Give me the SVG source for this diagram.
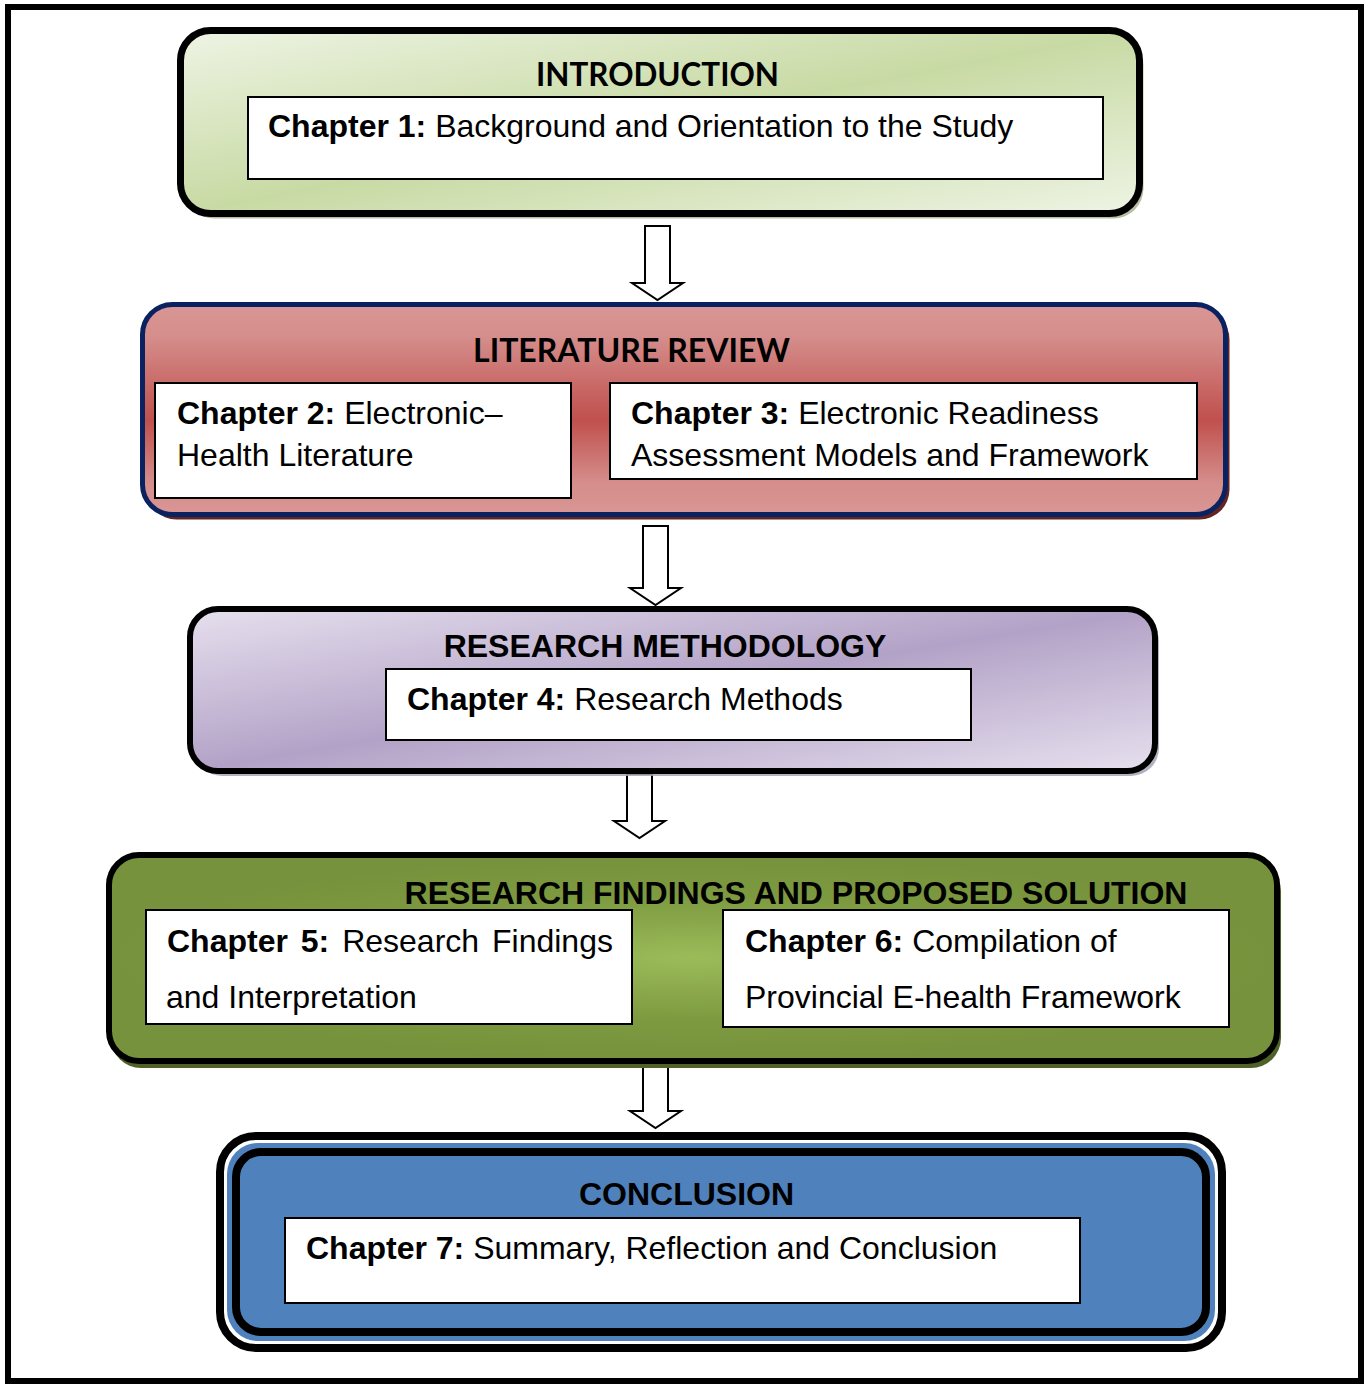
<svg xmlns="http://www.w3.org/2000/svg" width="1364" height="1384" viewBox="0 0 1364 1384">
  <defs>
    <linearGradient id="gIntro" x1="0" y1="0" x2="1" y2="1">
      <stop offset="0" stop-color="#eef4e4"/>
      <stop offset="0.5" stop-color="#c8daa4"/>
      <stop offset="1" stop-color="#eef4e4"/>
    </linearGradient>
    <linearGradient id="gLit" x1="0" y1="0" x2="0" y2="1">
      <stop offset="0" stop-color="#d99694"/>
      <stop offset="0.15" stop-color="#d58e8c"/>
      <stop offset="0.55" stop-color="#c0504d"/>
      <stop offset="0.85" stop-color="#d58e8c"/>
      <stop offset="1" stop-color="#d99694"/>
    </linearGradient>
    <linearGradient id="gMethod" x1="0" y1="0" x2="1" y2="1">
      <stop offset="0" stop-color="#e6e0ee"/>
      <stop offset="0.5" stop-color="#b3a2c7"/>
      <stop offset="1" stop-color="#e6e0ee"/>
    </linearGradient>
    <radialGradient id="gFind" cx="0.5" cy="0.5" r="0.5" fx="0.5" fy="0.5">
      <stop offset="0" stop-color="#9bbb59"/>
      <stop offset="0.6" stop-color="#7d9a40"/>
      <stop offset="1" stop-color="#76923c"/>
    </radialGradient>
    <style>
      .box { fill: #ffffff; stroke: #000000; stroke-width: 2; }
      .t { font-family: "Liberation Sans", Arial, sans-serif; font-size: 32px; fill: #000000; }
      .b { font-weight: bold; }
      .h { font-family: "Liberation Sans", Arial, sans-serif; font-size: 32px; font-weight: bold; fill: #000000; text-anchor: middle; }
      .hc { font-family: Lato, "Open Sans", sans-serif; font-size: 33px; font-weight: bold; fill: #000000; text-anchor: middle; }
      .arrow { fill: #ffffff; stroke: #000000; stroke-width: 2; stroke-linejoin: miter; }
    </style>
  </defs>

  <!-- page frame -->
  <rect x="0" y="0" width="1364" height="1384" fill="#ffffff"/>
  <rect x="8" y="7" width="1353" height="1374" fill="none" stroke="#000000" stroke-width="6"/>

  <!-- connectors -->
  <g id="connectors">
    <path class="arrow" d="M645,226 H670 V283 H683 L657.5,300 L632,283 H645 Z"/>
    <path class="arrow" d="M643,526 H668 V588 H681 L655.5,605 L630,588 H643 Z"/>
    <path class="arrow" d="M627,774 H652 V821 H665 L639.5,838 L614,821 H627 Z"/>
    <path class="arrow" d="M643,1064 H668 V1111 H681 L655.5,1128 L630,1111 H643 Z"/>
  </g>

  <!-- introduction -->
  <g id="introduction">
    <rect x="184.5" y="35.5" width="959" height="183" rx="30" fill="#a9b48f" opacity="0.85"/>
    <rect x="180.5" y="30.5" width="959" height="183" rx="30" fill="url(#gIntro)" stroke="#000000" stroke-width="7"/>
    <text class="hc" x="657.5" y="86" textLength="243" lengthAdjust="spacingAndGlyphs">INTRODUCTION</text>
    <rect class="box" x="248" y="97" width="855" height="82"/>
    <text class="t" x="268" y="137"><tspan class="b">Chapter 1:</tspan> Background and Orientation to the Study</text>
  </g>

  <!-- literature review -->
  <g id="literature-review">
    <rect x="146.5" y="309.5" width="1083" height="210" rx="30" fill="#632523"/>
    <rect x="142.5" y="304.5" width="1083" height="210" rx="30" fill="url(#gLit)" stroke="#0a2260" stroke-width="5"/>
    <text class="hc" x="631.5" y="362" textLength="317" lengthAdjust="spacingAndGlyphs">LITERATURE REVIEW</text>
    <rect class="box" x="155" y="383" width="416" height="115"/>
    <text class="t" x="177" y="424"><tspan class="b">Chapter 2:</tspan> Electronic–</text>
    <text class="t" x="177" y="466">Health Literature</text>
    <rect class="box" x="610" y="383" width="587" height="96"/>
    <text class="t" x="631" y="424"><tspan class="b">Chapter 3:</tspan> Electronic Readiness</text>
    <text class="t" x="631" y="466">Assessment Models and Framework</text>
  </g>

  <!-- research methodology -->
  <g id="research-methodology">
    <rect x="194" y="614" width="965" height="162" rx="28" fill="#a9a2b5" opacity="0.85"/>
    <rect x="190" y="609" width="965" height="162" rx="28" fill="url(#gMethod)" stroke="#000000" stroke-width="6"/>
    <text class="h" x="665" y="657">RESEARCH METHODOLOGY</text>
    <rect class="box" x="386" y="669" width="585" height="71"/>
    <text class="t" x="407" y="710"><tspan class="b">Chapter 4:</tspan> Research Methods</text>
  </g>

  <!-- research findings and proposed solution -->
  <g id="research-findings">
    <rect x="111" y="861" width="1170" height="207" rx="30" fill="#4f6228"/>
    <rect x="109" y="855" width="1168" height="206" rx="30" fill="url(#gFind)" stroke="#000000" stroke-width="6"/>
    <text class="h" x="796" y="904">RESEARCH FINDINGS AND PROPOSED SOLUTION</text>
    <rect class="box" x="146" y="910" width="486" height="114"/>
    <text class="t" x="167" y="952" word-spacing="4"><tspan class="b">Chapter 5:</tspan> Research Findings</text>
    <text class="t" x="166" y="1008">and Interpretation</text>
    <rect class="box" x="723" y="910" width="506" height="117"/>
    <text class="t" x="745" y="952"><tspan class="b">Chapter 6:</tspan> Compilation of</text>
    <text class="t" x="745" y="1008">Provincial E-health Framework</text>
  </g>

  <!-- conclusion -->
  <g id="conclusion">
    <rect x="220" y="1136" width="1002" height="212" rx="36" fill="#ffffff" stroke="#000000" stroke-width="8"/>
    <rect x="227" y="1143" width="988" height="198" rx="31" fill="#4f81bd"/>
    <rect x="236" y="1152" width="970" height="180" rx="25" fill="#4f81bd" stroke="#000000" stroke-width="8"/>
    <text class="h" x="686.5" y="1205">CONCLUSION</text>
    <rect class="box" x="285" y="1218" width="795" height="85"/>
    <text class="t" x="306" y="1259"><tspan class="b">Chapter 7:</tspan> Summary, Reflection and Conclusion</text>
  </g>
</svg>
